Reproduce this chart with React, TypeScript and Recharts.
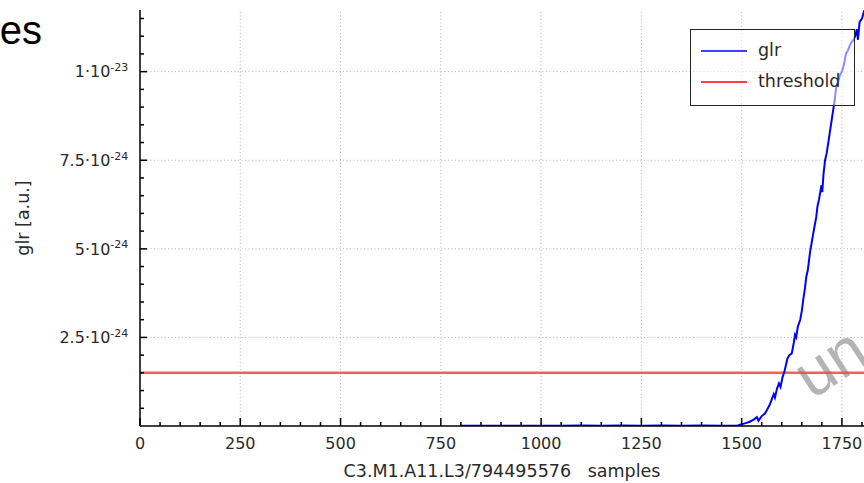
import React from 'react';
import { LineChart, Line, XAxis, YAxis, ReferenceLine, Legend } from 'recharts';

// ---- data ----
const glrSamples = [
  800, 850, 900, 950, 1000, 1050, 1100, 1150, 1200, 1250, 1300, 1350, 1400, 1450, 1490,
  1500, 1510, 1520, 1530, 1538, 1542, 1550, 1558, 1563, 1570, 1576, 1580, 1583, 1588,
  1593, 1597, 1602, 1607, 1614, 1619, 1625, 1630, 1633, 1636, 1640, 1646, 1650, 1654,
  1658, 1661, 1665, 1671, 1675, 1678, 1682, 1686, 1689, 1693, 1696, 1699, 1701, 1704,
  1708, 1712, 1716, 1720, 1724, 1728, 1732, 1736, 1740, 1745, 1750, 1755, 1760, 1765,
  1770, 1775, 1779, 1783, 1787, 1790, 1794, 1800, 1805, 1812,
];
const glrValues = [
  0.5e-26, 1.0e-26, 0.5e-26, 1.0e-26, 0.8e-26, 1.0e-26, 1.5e-26, 1.0e-26, 1.2e-26, 1.0e-26,
  1.5e-26, 1.0e-26, 1.5e-26, 1.0e-26, 1.5e-26,
  5.0e-26, 8.0e-26, 1.2e-25, 1.8e-25, 2.5e-25, 1.5e-25, 2.8e-25, 3.5e-25, 4.5e-25, 6.0e-25,
  7.8e-25, 9.0e-25, 8.0e-25, 1.05e-24, 1.2e-24, 1.1e-24, 1.38e-24, 1.55e-24, 1.9e-24,
  2.0e-24, 2.05e-24, 2.35e-24, 2.57e-24, 2.5e-24, 2.8e-24, 3.0e-24, 3.25e-24, 3.6e-24,
  3.9e-24, 4.2e-24, 4.4e-24, 4.95e-24, 5.2e-24, 5.4e-24, 5.65e-24, 5.9e-24, 6.2e-24,
  6.4e-24, 6.6e-24, 6.8e-24, 6.6e-24, 7.1e-24, 7.5e-24, 7.7e-24, 8.0e-24, 8.3e-24,
  8.6e-24, 8.9e-24, 9.2e-24, 9.6e-24, 9.7e-24, 9.9e-24, 1.0e-23, 1.02e-23, 1.05e-23,
  1.06e-23, 1.075e-23, 1.085e-23, 1.09e-23, 1.1e-23, 1.12e-23, 1.09e-23, 1.14e-23,
  1.15e-23, 1.17e-23, 1.19e-23,
];
const thresholdSamples = [0, 1815];
const thresholdValues = [1.5e-24, 1.5e-24];

const glrData = glrSamples.map((x, i) => ({ x, v: glrValues[i] }));
const thresholdData = thresholdSamples.map((x, i) => ({ x, v: thresholdValues[i] }));

// ---- ticks ----
const xTicks = [
  0, 50, 100, 150, 200, 250, 300, 350, 400, 450, 500, 550, 600, 650, 700, 750, 800, 850, 900,
  950, 1000, 1050, 1100, 1150, 1200, 1250, 1300, 1350, 1400, 1450, 1500, 1550, 1600, 1650,
  1700, 1750, 1800,
];
const xMajorTicks = [0, 250, 500, 750, 1000, 1250, 1500, 1750];
const xTickLabels = ['0', '250', '500', '750', '1000', '1250', '1500', '1750'];
const yTicks = [
  5e-25, 1e-24, 1.5e-24, 2e-24, 2.5e-24, 3e-24, 3.5e-24, 4e-24, 4.5e-24, 5e-24, 5.5e-24,
  6e-24, 6.5e-24, 7e-24, 7.5e-24, 8e-24, 8.5e-24, 9e-24, 9.5e-24, 1e-23, 1.05e-23, 1.1e-23,
  1.15e-23,
];
const yMajorTicks = [2.5e-24, 5e-24, 7.5e-24, 1e-23];
const yTickMantissas = ['2.5', '5', '7.5', '1'];
const yTickExponents = ['-24', '-24', '-24', '-23'];

const X_DOMAIN: [number, number] = [0, 1815];
const Y_DOMAIN: [number, number] = [0, 1.174e-23];

const FONT = '"DejaVu Sans", sans-serif';
const TEXT = '#2a2a2a';
const AXIS = '#000';

const majorIndexX = (v: number) => xMajorTicks.indexOf(v);
const majorIndexY = (v: number) =>
  yMajorTicks.findIndex((m) => Math.abs(m - v) < 1e-27);

const BottomTick = (props: any) => {
  const { x, y, payload } = props;
  const idx = majorIndexX(payload.value);
  const major = idx >= 0;
  return (
    <g>
      <line x1={x} x2={x} y1={y} y2={y - (major ? 8 : 4)} stroke={AXIS} strokeWidth={1.5} />
      {major && (
        <text x={x} y={y + 22.5} textAnchor="middle" fontSize={16} fill={TEXT} fontFamily={FONT}>
          {xTickLabels[idx]}
        </text>
      )}
    </g>
  );
};

const TopTick = (props: any) => {
  const { x, y, payload } = props;
  const major = majorIndexX(payload.value) >= 0;
  return <line x1={x} x2={x} y1={y} y2={y + (major ? 8 : 4)} stroke={AXIS} strokeWidth={1.5} />;
};

const LeftTick = (props: any) => {
  const { x, y, payload } = props;
  const idx = majorIndexY(payload.value);
  const major = idx >= 0;
  return (
    <g>
      <line x1={x} x2={x + (major ? 7 : 4)} y1={y} y2={y} stroke={AXIS} strokeWidth={1.5} />
      {major && (
        <text x={x - 11.7} y={y + 5.8} textAnchor="end" fontSize={16} fill={TEXT} fontFamily={FONT}>
          <tspan>{yTickMantissas[idx] + '\u00B710'}</tspan>
          <tspan dy={-6.5} fontSize={11}>{yTickExponents[idx]}</tspan>
        </text>
      )}
    </g>
  );
};

const RightTick = (props: any) => {
  const { x, y, payload } = props;
  const major = majorIndexY(payload.value) >= 0;
  return <line x1={x} x2={x - (major ? 7 : 4)} y1={y} y2={y} stroke={AXIS} strokeWidth={1.5} />;
};

const XLabel = (props: any) => {
  const vb = props.viewBox || {};
  return (
    <text
      x={vb.x + vb.width / 2 - 2}
      y={vb.y + 50.5}
      textAnchor="middle"
      fontSize={17.5}
      fill={TEXT}
      fontFamily={FONT}
      style={{ whiteSpace: 'pre' }}
    >
      {'C3.M1.A11.L3/794495576   samples'}
    </text>
  );
};

const YLabel = (props: any) => {
  const vb = props.viewBox || {};
  const cx = 29;
  const cy = vb.y + vb.height / 2;
  return (
    <text
      x={cx}
      y={cy}
      transform={`rotate(-90, ${cx}, ${cy})`}
      textAnchor="middle"
      fontSize={17.5}
      fill={TEXT}
      fontFamily={FONT}
    >
      glr [a.u.]
    </text>
  );
};

const legendItems = [
  { name: 'glr', color: '#0000ff' },
  { name: 'threshold', color: '#ff0000' },
];

const LegendBox = () => (
  <div
    style={{
      width: 165,
      height: 77,
      boxSizing: 'border-box',
      border: '1.5px solid #222',
      background: 'rgba(255,255,255,0.55)',
      position: 'relative',
      fontFamily: FONT,
      fontSize: 17.5,
      color: TEXT,
    }}
  >
    {legendItems.map((it, i) => (
      <div
        key={it.name}
        style={{ position: 'absolute', left: 0, top: 21 + i * 31 - 12, height: 24, width: 160 }}
      >
        <svg width={60} height={24} style={{ position: 'absolute', left: 0, top: 0 }}>
          <line x1={10} x2={56} y1={12} y2={12} stroke={it.color} strokeWidth={1.5} />
        </svg>
        <span style={{ position: 'absolute', left: 67, top: 0, lineHeight: '22px', whiteSpace: 'pre' }}>
          {it.name}
        </span>
      </div>
    ))}
  </div>
);

export default function App() {
  return (
    <div
      style={{
        position: 'fixed',
        left: 0,
        top: 0,
        width: 864,
        height: 483,
        overflow: 'hidden',
        background: '#fff',
      }}
    >
      <svg width={864} height={483} style={{ position: 'absolute', left: 0, top: 0 }}>
        <text x={42} y={43.5} textAnchor="end" fontSize={40} fontFamily='"Liberation Sans", Arial, sans-serif' fill="#000">
          es
        </text>
        <text
          x={812}
          y={400}
          transform="rotate(-33, 812, 400)"
          fontSize={64}
          fontFamily='"Liberation Sans", Arial, sans-serif'
          fill="#b4b4b4"
        >
          un
        </text>
      </svg>
      <div style={{ position: 'absolute', left: 0, top: 0 }}>
        <LineChart width={880} height={483} margin={{ top: 10, right: 12, bottom: 0, left: 0 }}>
          <XAxis
            xAxisId="b"
            dataKey="x"
            type="number"
            orientation="bottom"
            domain={X_DOMAIN}
            allowDataOverflow
            ticks={xTicks}
            interval={0}
            tickSize={0}
            tickMargin={0}
            tick={<BottomTick />}
            tickLine={false}
            axisLine={{ stroke: AXIS, strokeWidth: 1.5 }}
            height={57}
            label={<XLabel />}
          />
          <XAxis
            xAxisId="t"
            dataKey="x"
            type="number"
            orientation="top"
            domain={X_DOMAIN}
            allowDataOverflow
            ticks={xTicks}
            interval={0}
            tickSize={0}
            tickMargin={0}
            tick={<TopTick />}
            tickLine={false}
            axisLine={{ stroke: AXIS, strokeWidth: 1.5 }}
            height={0}
          />
          <YAxis
            yAxisId="l"
            type="number"
            orientation="left"
            domain={Y_DOMAIN}
            allowDataOverflow
            ticks={yTicks}
            interval={0}
            tickSize={0}
            tickMargin={0}
            tick={<LeftTick />}
            tickLine={false}
            axisLine={{ stroke: AXIS, strokeWidth: 1.5 }}
            width={140}
            label={<YLabel />}
          />
          <YAxis
            yAxisId="r"
            type="number"
            orientation="right"
            domain={Y_DOMAIN}
            allowDataOverflow
            ticks={yTicks}
            interval={0}
            tickSize={0}
            tickMargin={0}
            tick={<RightTick />}
            tickLine={false}
            axisLine={{ stroke: AXIS, strokeWidth: 1.5 }}
            width={0}
          />
          {xMajorTicks.slice(1).map((v) => (
            <ReferenceLine
              key={'gx' + v}
              x={v}
              xAxisId="b"
              yAxisId="l"
              stroke="#b0b0b0"
              strokeWidth={1}
              strokeDasharray="1 2.5"
            />
          ))}
          {yMajorTicks.map((v) => (
            <ReferenceLine
              key={'gy' + v}
              y={v}
              xAxisId="b"
              yAxisId="l"
              stroke="#b0b0b0"
              strokeWidth={1}
              strokeDasharray="1 2.5"
            />
          ))}
          <Line
            data={thresholdData}
            dataKey="v"
            name="threshold"
            xAxisId="b"
            yAxisId="l"
            stroke="#ff4040"
            strokeOpacity={0.85}
            strokeWidth={2.5}
            dot={false}
            activeDot={false}
            isAnimationActive={false}
          />
          <Line
            data={glrData}
            dataKey="v"
            name="glr"
            xAxisId="b"
            yAxisId="l"
            stroke="#0000ff"
            strokeWidth={2}
            dot={false}
            activeDot={false}
            isAnimationActive={false}
          />
          <Legend
            layout="vertical"
            align="center"
            verticalAlign="middle"
            content={<LegendBox />}
            wrapperStyle={{ left: 690, top: 29, width: 165, height: 77 }}
          />
        </LineChart>
      </div>
    </div>
  );
}
